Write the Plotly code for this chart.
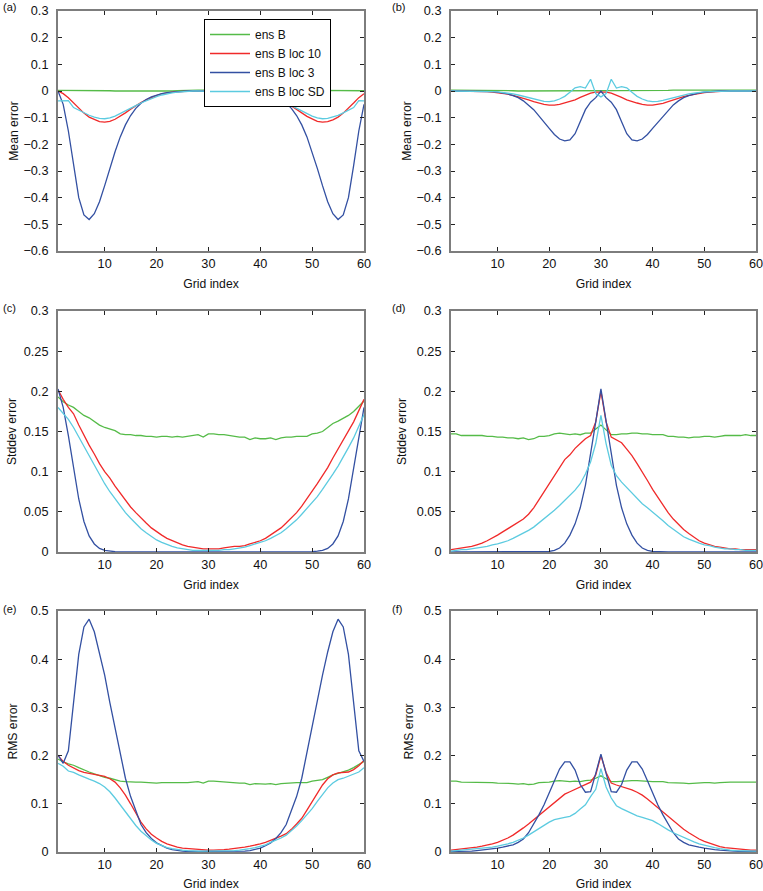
import plotly.graph_objects as go
from plotly.subplots import make_subplots

grid = list(range(1, 61))
series_names = ["ens B", "ens B loc 10", "ens B loc 3", "ens B loc SD"]
colors = ["#55bb48", "#f02a2a", "#3350a2", "#5ccbe0"]
x_ticks = [10, 20, 30, 40, 50, 60]
panel_labels = ["(a)", "(b)", "(c)", "(d)", "(e)", "(f)"]
y_titles = ["Mean error", "Mean error", "Stddev error", "Stddev error", "RMS error", "RMS error"]

# ---- (a) mean error, left ----
a_green = [0.002,0.002,0.003,0.002,0.003,0.002,0.002,0.003,0.002,0.001,0.001,0.000,0.000,-0.001,-0.002,-0.002,-0.001,-0.002,-0.002,-0.001,
           -0.001,0.000,0.000,0.001,0.002,0.002,0.003,0.003,0.003,0.002,0.003,0.003,0.002,0.003,0.002,0.001,0.001,0.000,0.001,0.000,
           -0.001,-0.001,-0.002,-0.001,-0.002,-0.001,-0.001,0.000,0.001,0.001,0.002,0.002,0.002,0.001,0.002,0.002,0.001,0.002,0.001,0.001]
a_red = [0.0,-0.01,-0.025,-0.045,-0.065,-0.083,-0.098,-0.108,-0.115,-0.117,-0.114,-0.106,-0.095,-0.082,-0.068,-0.055,-0.043,-0.033,-0.024,-0.017,
         -0.011,-0.007,-0.004,-0.002,-0.001,0.0,0.0,0.0,0.0,0.0,0.0,0.0,0.0,0.0,0.0,0.0,-0.001,-0.002,-0.004,-0.007,
         -0.011,-0.017,-0.024,-0.033,-0.043,-0.055,-0.068,-0.082,-0.095,-0.106,-0.114,-0.117,-0.115,-0.108,-0.098,-0.083,-0.065,-0.045,-0.025,-0.01]
a_blue = [0.0,-0.05,-0.15,-0.28,-0.40,-0.465,-0.482,-0.46,-0.415,-0.355,-0.29,-0.228,-0.172,-0.127,-0.092,-0.065,-0.046,-0.032,-0.022,-0.015,
          -0.010,-0.006,-0.004,-0.002,-0.001,0.0,0.0,0.0,0.0,0.0,0.0,0.0,0.0,0.0,0.0,0.0,-0.001,-0.002,-0.004,-0.006,
          -0.010,-0.015,-0.022,-0.032,-0.046,-0.065,-0.092,-0.127,-0.172,-0.228,-0.29,-0.355,-0.415,-0.46,-0.482,-0.465,-0.40,-0.28,-0.15,-0.05]
a_cyan = [-0.037,-0.037,-0.036,-0.062,-0.072,-0.082,-0.091,-0.098,-0.103,-0.104,-0.101,-0.094,-0.085,-0.075,-0.065,-0.055,-0.045,-0.036,-0.028,-0.021,
          -0.015,-0.010,-0.007,-0.004,-0.002,-0.001,0.0,0.0,0.0,0.0,0.0,0.0,0.0,0.0,0.0,-0.001,-0.002,-0.004,-0.007,-0.010,
          -0.015,-0.021,-0.028,-0.036,-0.045,-0.055,-0.065,-0.075,-0.085,-0.094,-0.101,-0.104,-0.103,-0.098,-0.091,-0.082,-0.072,-0.062,-0.036,-0.037]

# ---- (b) mean error, right ----
b_green = [0.003,0.003,0.003,0.003,0.003,0.003,0.003,0.002,0.002,0.002,0.001,0.001,0.001,0.000,0.000,0.000,0.000,0.000,0.000,0.000,
           0.000,0.000,0.001,0.001,0.002,0.002,0.002,0.001,0.001,0.000,0.000,0.000,0.001,0.000,0.000,0.000,0.000,0.000,0.001,0.001,
           0.002,0.002,0.002,0.003,0.003,0.003,0.004,0.004,0.004,0.004,0.004,0.004,0.003,0.003,0.003,0.003,0.002,0.002,0.003,0.003]
b_red = [0.0,0.0,0.0,0.0,0.0,0.0,-0.001,-0.002,-0.004,-0.006,-0.009,-0.012,-0.016,-0.021,-0.027,-0.033,-0.04,-0.046,-0.05,-0.053,
         -0.053,-0.05,-0.045,-0.04,-0.033,-0.024,-0.015,-0.008,-0.004,-0.003,-0.004,-0.008,-0.015,-0.024,-0.033,-0.04,-0.045,-0.05,-0.053,-0.053,
         -0.05,-0.046,-0.04,-0.033,-0.027,-0.021,-0.016,-0.012,-0.009,-0.006,-0.004,-0.002,-0.001,0.0,0.0,0.0,0.0,0.0,0.0,0.0]
b_blue = [0.0,0.0,0.0,0.0,0.0,0.0,0.0,-0.001,-0.002,-0.004,-0.007,-0.011,-0.017,-0.025,-0.037,-0.052,-0.07,-0.093,-0.118,-0.14,
          -0.163,-0.18,-0.187,-0.183,-0.16,-0.115,-0.07,-0.042,-0.025,0.0,-0.025,-0.042,-0.07,-0.115,-0.16,-0.183,-0.187,-0.18,-0.163,-0.14,
          -0.118,-0.093,-0.07,-0.052,-0.037,-0.025,-0.017,-0.011,-0.007,-0.004,-0.002,-0.001,0.0,0.0,0.0,0.0,0.0,0.0,0.0,0.0]
b_cyan = [0.0,0.0,0.0,0.0,0.0,0.0,0.0,-0.001,-0.002,-0.003,-0.005,-0.008,-0.011,-0.015,-0.02,-0.025,-0.03,-0.035,-0.039,-0.04,
          -0.037,-0.03,-0.02,-0.005,0.012,0.016,0.011,0.044,-0.01,-0.022,-0.01,0.044,0.011,0.016,0.012,-0.005,-0.02,-0.03,-0.037,-0.04,
          -0.039,-0.035,-0.03,-0.025,-0.02,-0.015,-0.011,-0.008,-0.005,-0.003,-0.002,-0.001,0.0,0.0,0.0,0.0,0.0,0.0,0.0,0.0]

# ---- (c) stddev error, left ----
c_green = [0.193,0.187,0.183,0.18,0.175,0.17,0.167,0.162,0.158,0.155,0.153,0.151,0.147,0.146,0.146,0.145,0.145,0.144,0.144,0.143,
           0.144,0.144,0.143,0.144,0.143,0.144,0.145,0.146,0.143,0.147,0.147,0.146,0.146,0.145,0.144,0.143,0.143,0.14,0.142,0.141,
           0.141,0.142,0.14,0.142,0.143,0.143,0.144,0.144,0.144,0.147,0.148,0.15,0.155,0.16,0.163,0.166,0.17,0.175,0.181,0.188]
c_red = [0.202,0.19,0.18,0.172,0.158,0.145,0.133,0.122,0.11,0.1,0.092,0.082,0.073,0.064,0.056,0.049,0.042,0.036,0.03,0.025,
         0.021,0.017,0.014,0.011,0.009,0.007,0.006,0.005,0.004,0.004,0.004,0.004,0.005,0.006,0.007,0.007,0.008,0.01,0.012,0.014,
         0.017,0.021,0.025,0.03,0.036,0.042,0.049,0.057,0.066,0.076,0.085,0.095,0.105,0.117,0.128,0.14,0.151,0.162,0.176,0.19]
c_blue = [0.203,0.18,0.145,0.103,0.066,0.038,0.02,0.01,0.0045,0.002,0.001,0.0004,0.0001,0.0,0.0,0.0,0.0,0.0,0.0,0.0,
          0.0,0.0,0.0,0.0,0.0,0.0,0.0,0.0,0.0,0.0,0.0,0.0,0.0,0.0,0.0,0.0,0.0,0.0,0.0,0.0,
          0.0,0.0,0.0,0.0,0.0,0.0,0.0,0.0,0.0001,0.0004,0.001,0.002,0.0045,0.01,0.02,0.038,0.066,0.103,0.145,0.18]
c_cyan = [0.18,0.172,0.165,0.155,0.143,0.131,0.119,0.107,0.096,0.085,0.075,0.066,0.057,0.049,0.042,0.035,0.029,0.024,0.019,0.015,
          0.012,0.009,0.007,0.005,0.004,0.003,0.002,0.002,0.002,0.002,0.002,0.002,0.003,0.003,0.004,0.005,0.006,0.008,0.01,0.012,
          0.014,0.017,0.02,0.024,0.029,0.034,0.04,0.047,0.054,0.061,0.069,0.078,0.087,0.097,0.107,0.118,0.13,0.142,0.156,0.171]

# ---- (d) stddev error, right ----
d_green = [0.147,0.147,0.145,0.145,0.145,0.145,0.145,0.144,0.144,0.143,0.143,0.142,0.142,0.141,0.142,0.14,0.141,0.144,0.144,0.145,
           0.147,0.148,0.147,0.146,0.147,0.146,0.148,0.148,0.153,0.158,0.152,0.146,0.146,0.147,0.147,0.148,0.148,0.147,0.147,0.146,
           0.146,0.146,0.144,0.144,0.143,0.143,0.142,0.143,0.143,0.144,0.144,0.143,0.144,0.145,0.145,0.145,0.145,0.146,0.145,0.145]
d_red = [0.003,0.004,0.005,0.006,0.007,0.009,0.011,0.014,0.017,0.021,0.025,0.029,0.033,0.037,0.041,0.047,0.055,0.065,0.075,0.085,
         0.095,0.106,0.115,0.121,0.129,0.135,0.141,0.145,0.162,0.2,0.162,0.143,0.139,0.136,0.128,0.12,0.11,0.1,0.089,0.078,
         0.068,0.058,0.049,0.041,0.034,0.028,0.023,0.018,0.014,0.011,0.009,0.007,0.006,0.005,0.004,0.004,0.003,0.003,0.003,0.003]
d_blue = [0.0,0.0,0.0,0.0,0.0,0.0,0.0,0.0,0.0,0.0,0.0,0.0,0.0,0.0,0.0,0.0,0.0,0.0,0.0002,0.0007,
          0.002,0.005,0.011,0.021,0.035,0.055,0.083,0.12,0.162,0.203,0.162,0.12,0.083,0.055,0.035,0.021,0.011,0.005,0.002,0.0007,
          0.0002,0.0,0.0,0.0,0.0,0.0,0.0,0.0,0.0,0.0,0.0,0.0,0.0,0.0,0.0,0.0,0.0,0.0,0.0,0.0]
d_cyan = [0.001,0.002,0.003,0.003,0.004,0.005,0.006,0.007,0.009,0.01,0.012,0.014,0.017,0.02,0.023,0.027,0.031,0.036,0.041,0.046,
          0.052,0.058,0.064,0.07,0.077,0.085,0.097,0.112,0.135,0.17,0.135,0.108,0.095,0.087,0.08,0.073,0.066,0.06,0.055,0.05,
          0.044,0.039,0.033,0.028,0.023,0.019,0.016,0.013,0.011,0.009,0.008,0.006,0.005,0.004,0.004,0.003,0.003,0.002,0.002,0.002]

# ---- (e) RMS error, left ----
e_green = [0.193,0.187,0.183,0.18,0.175,0.17,0.166,0.162,0.158,0.155,0.153,0.15,0.147,0.146,0.145,0.145,0.145,0.144,0.144,0.143,
           0.144,0.144,0.143,0.144,0.143,0.144,0.145,0.146,0.143,0.147,0.147,0.146,0.146,0.145,0.144,0.143,0.143,0.14,0.142,0.141,
           0.141,0.142,0.14,0.142,0.143,0.143,0.144,0.144,0.144,0.147,0.148,0.15,0.155,0.16,0.163,0.166,0.17,0.175,0.181,0.188]
e_red = [0.2,0.188,0.18,0.174,0.169,0.165,0.163,0.162,0.16,0.157,0.152,0.145,0.133,0.118,0.1,0.08,0.062,0.048,0.037,0.029,
         0.022,0.017,0.013,0.01,0.008,0.007,0.006,0.005,0.004,0.004,0.004,0.004,0.005,0.006,0.007,0.008,0.01,0.012,0.014,0.017,
         0.02,0.024,0.028,0.033,0.038,0.047,0.058,0.07,0.087,0.105,0.123,0.139,0.152,0.16,0.164,0.165,0.166,0.171,0.179,0.19]
e_blue = [0.201,0.184,0.21,0.31,0.41,0.467,0.483,0.457,0.415,0.367,0.31,0.257,0.208,0.153,0.115,0.085,0.057,0.04,0.028,0.019,
          0.013,0.008,0.005,0.003,0.002,0.001,0.001,0.001,0.001,0.001,0.001,0.001,0.001,0.001,0.001,0.001,0.002,0.003,0.005,0.008,
          0.013,0.019,0.028,0.04,0.057,0.085,0.115,0.153,0.208,0.257,0.31,0.367,0.415,0.457,0.483,0.467,0.41,0.31,0.21,0.188]
e_cyan = [0.184,0.178,0.168,0.165,0.16,0.155,0.151,0.147,0.142,0.135,0.125,0.112,0.098,0.083,0.068,0.055,0.043,0.033,0.025,0.018,
          0.013,0.009,0.007,0.005,0.004,0.003,0.002,0.002,0.002,0.002,0.002,0.002,0.002,0.002,0.003,0.004,0.005,0.007,0.009,0.012,
          0.015,0.02,0.024,0.029,0.035,0.044,0.054,0.065,0.077,0.09,0.105,0.12,0.133,0.143,0.15,0.153,0.157,0.162,0.166,0.175]

# ---- (f) RMS error, right ----
f_green = [0.147,0.147,0.145,0.145,0.145,0.145,0.145,0.144,0.144,0.143,0.143,0.142,0.142,0.141,0.142,0.14,0.141,0.144,0.144,0.145,
           0.147,0.148,0.147,0.146,0.147,0.146,0.148,0.149,0.153,0.158,0.152,0.146,0.146,0.147,0.147,0.148,0.148,0.147,0.147,0.146,
           0.146,0.146,0.144,0.144,0.143,0.143,0.142,0.143,0.143,0.144,0.144,0.143,0.144,0.145,0.145,0.145,0.145,0.146,0.145,0.145]
f_red = [0.004,0.005,0.006,0.007,0.008,0.01,0.012,0.014,0.017,0.02,0.024,0.029,0.035,0.042,0.05,0.058,0.067,0.076,0.085,0.094,
         0.104,0.113,0.12,0.125,0.13,0.135,0.14,0.145,0.16,0.2,0.165,0.143,0.139,0.136,0.133,0.129,0.124,0.118,0.11,0.101,
         0.092,0.082,0.073,0.064,0.055,0.047,0.04,0.033,0.027,0.022,0.018,0.014,0.011,0.009,0.008,0.006,0.005,0.005,0.004,0.004]
f_blue = [0.001,0.001,0.001,0.002,0.002,0.003,0.004,0.005,0.006,0.008,0.01,0.012,0.015,0.02,0.027,0.04,0.058,0.077,0.098,0.122,
          0.148,0.172,0.187,0.187,0.17,0.14,0.124,0.125,0.163,0.203,0.163,0.125,0.124,0.14,0.17,0.187,0.187,0.172,0.148,0.122,
          0.098,0.077,0.058,0.04,0.027,0.02,0.015,0.012,0.01,0.008,0.006,0.005,0.004,0.003,0.002,0.002,0.001,0.001,0.001,0.001]
f_cyan = [0.002,0.003,0.003,0.004,0.005,0.006,0.007,0.008,0.01,0.012,0.014,0.017,0.02,0.024,0.029,0.035,0.042,0.049,0.056,0.062,
          0.067,0.07,0.072,0.074,0.08,0.089,0.098,0.115,0.13,0.173,0.135,0.112,0.096,0.09,0.085,0.08,0.075,0.072,0.069,0.065,
          0.059,0.052,0.046,0.04,0.035,0.03,0.025,0.021,0.017,0.014,0.011,0.009,0.007,0.005,0.004,0.003,0.003,0.002,0.002,0.002]

panels = [
    [a_green, a_red, a_blue, a_cyan],
    [b_green, b_red, b_blue, b_cyan],
    [c_green, c_red, c_blue, c_cyan],
    [d_green, d_red, d_blue, d_cyan],
    [e_green, e_red, e_blue, e_cyan],
    [f_green, f_red, f_blue, f_cyan],
]
y_ranges = [[-0.6, 0.3], [-0.6, 0.3], [0, 0.3], [0, 0.3], [0, 0.5], [0, 0.5]]
y_dticks = [0.1, 0.1, 0.05, 0.05, 0.1, 0.1]
y_title_standoff = [2, 2, 4, 7, 11, 8]

FONT = "Liberation Sans, Arial, Helvetica, sans-serif"
W, H = 763, 891
ML, MR, MT, MB = 58, 7, 11, 39
pw, ph = W - ML - MR, H - MT - MB


def px_x(p):
    return (p - ML) / pw


def px_y(p):
    return (H - MB - p) / ph


col_dom = [[px_x(58), px_x(364)], [px_x(451), px_x(756)]]
row_dom = [[px_y(251), px_y(11)], [px_y(552), px_y(311)], [px_y(852), px_y(611)]]

fig = make_subplots(rows=3, cols=2)

for i, series in enumerate(panels):
    r, c = i // 2 + 1, i % 2 + 1
    for k, ys in enumerate(series):
        fig.add_trace(
            go.Scatter(
                x=grid, y=ys, mode="lines", name=series_names[k],
                line=dict(color=colors[k], width=1.3),
                showlegend=(i == 0),
            ),
            row=r, col=c,
        )

axis_common = dict(
    ticks="inside", ticklen=4, tickwidth=1, tickcolor="#222222",
    showline=True, linecolor="#7d7d7d", linewidth=2, mirror="ticks",
    showgrid=False, zeroline=False,
    tickfont=dict(family=FONT, size=12.7, color="#111111"),
)

for i in range(6):
    r, c = i // 2, i % 2
    sx = "" if i == 0 else str(i + 1)
    fig.layout["xaxis" + sx].update(
        domain=col_dom[c], range=[1, 60], tickvals=x_ticks,
        ticklabeloverflow="allow",
        title=dict(text="Grid index", font=dict(family=FONT, size=12.2, color="#111111"), standoff=9),
        **axis_common,
    )
    fig.layout["yaxis" + sx].update(
        domain=row_dom[r], range=y_ranges[i], dtick=y_dticks[i], tick0=0,
        title=dict(text=y_titles[i], font=dict(family=FONT, size=12.2, color="#111111"),
                   standoff=y_title_standoff[i]),
        ticklabelstandoff=5,
        **axis_common,
    )

label_pos = [(1, 7), (390, 7), (1, 308), (390, 308), (1, 609), (390, 609)]
for i, (lx, ly) in enumerate(label_pos):
    fig.add_annotation(
        text=panel_labels[i], xref="paper", yref="paper",
        x=px_x(lx), y=px_y(ly), xanchor="left", yanchor="middle",
        showarrow=False, font=dict(family=FONT, size=11, color="#111111"),
    )

fig.update_layout(
    width=W, height=H,
    margin=dict(l=ML, r=MR, t=MT, b=MB, autoexpand=False),
    paper_bgcolor="white", plot_bgcolor="white",
    font=dict(family=FONT, size=12, color="#111111"),
    showlegend=True,
    legend=dict(
        x=px_x(204), y=px_y(19), xanchor="left", yanchor="top",
        bgcolor="white", bordercolor="#000000", borderwidth=1,
        font=dict(family=FONT, size=12, color="#111111"),
        tracegroupgap=0, itemwidth=40,
    ),
)

fig.write_html(
    "out.html",
    config={"displayModeBar": False},
    post_script="var s=document.createElement('style');s.innerHTML='html,body{margin:0;padding:0;overflow:hidden;}';document.head.appendChild(s);",
)
